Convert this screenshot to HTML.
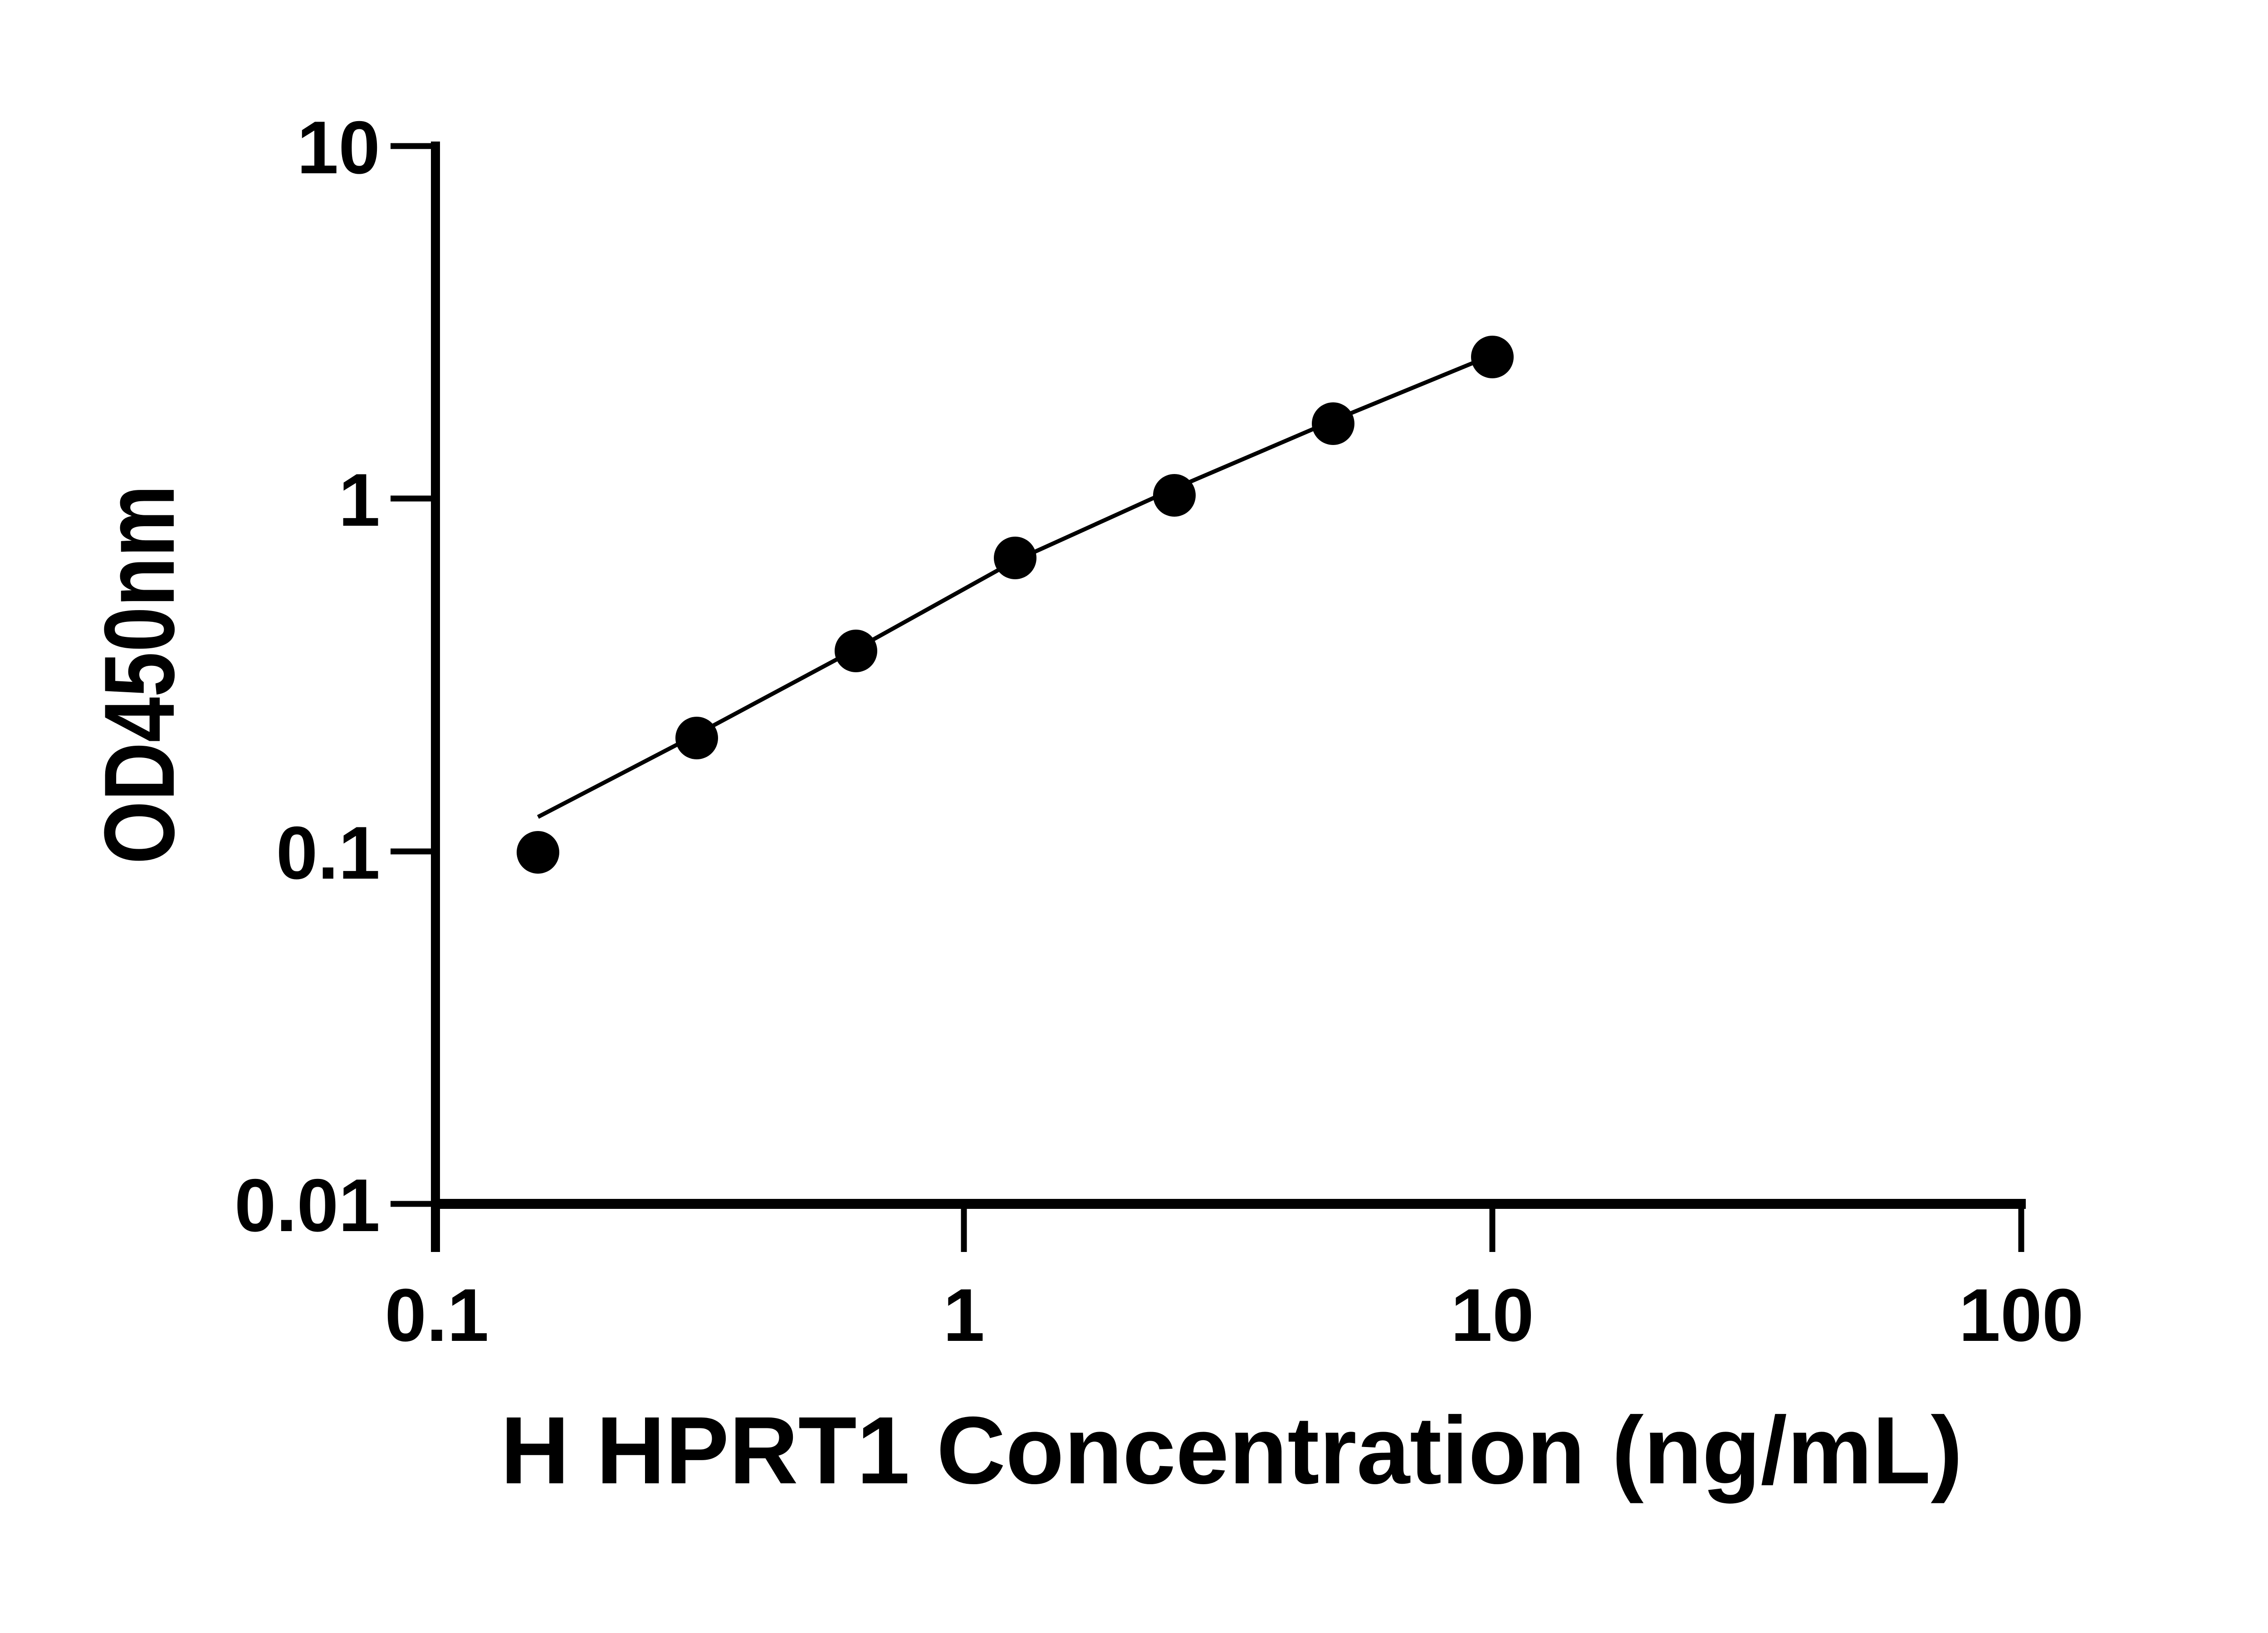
<!DOCTYPE html>
<html><head><meta charset="utf-8"><style>
html,body{margin:0;padding:0;background:#fff;}
svg{display:block;}
text{font-family:"Liberation Sans","DejaVu Sans",sans-serif;font-weight:bold;fill:#000;}
</style></head><body>
<svg width="5142" height="3600" viewBox="0 0 5142 3600" xmlns="http://www.w3.org/2000/svg">
<g stroke="#000" fill="none">
<line x1="960" y1="312" x2="960" y2="2760" stroke-width="20"/>
<line x1="950" y1="2654" x2="4466" y2="2654" stroke-width="22"/>
<g stroke-width="13">
<line x1="861" y1="322" x2="960" y2="322"/>
<line x1="861" y1="1099" x2="960" y2="1099"/>
<line x1="861" y1="1877" x2="960" y2="1877"/>
<line x1="861" y1="2654" x2="960" y2="2654"/>
<line x1="2125" y1="2654" x2="2125" y2="2760"/>
<line x1="3290" y1="2654" x2="3290" y2="2760"/>
<line x1="4456" y1="2654" x2="4456" y2="2760"/>
</g>
<polyline points="1186,1801 1536,1619 1887,1431 2238,1236 2589,1077 2939,927 3255,797" stroke-width="9"/>
</g>
<g fill="#000">
<circle cx="1186" cy="1879" r="47"/>
<circle cx="1536" cy="1627" r="47"/>
<circle cx="1887" cy="1435" r="47"/>
<circle cx="2238" cy="1230" r="47"/>
<circle cx="2589" cy="1092" r="47"/>
<circle cx="2939" cy="934" r="47"/>
<circle cx="3290" cy="787" r="47"/>
</g>
<g font-size="165" text-anchor="end">
<text x="838" y="382">10</text>
<text x="838" y="1159">1</text>
<text x="838" y="1937">0.1</text>
<text x="838" y="2714">0.01</text>
</g>
<g font-size="165" text-anchor="middle">
<text x="963" y="2956">0.1</text>
<text x="2125" y="2956">1</text>
<text x="3290" y="2956">10</text>
<text x="4456" y="2956">100</text>
</g>
<text x="2715" y="3270" font-size="211" text-anchor="middle">H HPRT1 Concentration (ng/mL)</text>
<text transform="translate(383,1487) rotate(-90)" font-size="220" text-anchor="middle" textLength="836" lengthAdjust="spacingAndGlyphs">OD450nm</text>
</svg>
</body></html>
